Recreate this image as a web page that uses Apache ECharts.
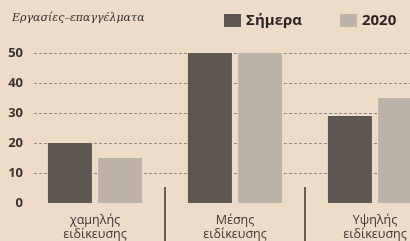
<!DOCTYPE html>
<html>
<head>
    <meta charset="utf-8">
    <title>Εργασίες–επαγγέλματα</title>
    <script src="https://cdn.jsdelivr.net/npm/echarts@6/dist/echarts.min.js"></script>
    <style>
        html, body { margin: 0; padding: 0; background: #efdcc8; }
    </style>
</head>
<body>
<div id="main" style="width:410px; height:241px;"></div>

<script type="text/javascript">
    // δεδομένα
    var categories = ['χαμηλής\nειδίκευσης', 'Μέσης\nειδίκευσης', 'Υψηλής\nειδίκευσης'];
    var seriesNames = ['Σήμερα', '2020'];
    var todayValues = [20, 50, 29];
    var future2020Values = [15, 50, 35];
    var yTicks = [0, 10, 20, 30, 40, 50];

    var darkColor = '#5e5650';
    var lightColor = '#bdb3a9';
    var textColor = '#3a3330';

    var myChart = echarts.init(document.getElementById('main'));

    var option = {
        backgroundColor: '#efdcc8',
        animation: false,
        title: {
            text: 'Εργασίες–επαγγέλματα',
            left: 7,
            top: 8,
            textStyle: {
                fontFamily: 'DejaVu Serif',
                fontStyle: 'italic',
                fontWeight: 'normal',
                fontSize: 11,
                color: '#2f2a28'
            }
        },
        legend: {
            data: seriesNames,
            left: 219,
            top: 8,
            itemWidth: 17,
            itemHeight: 13,
            itemGap: 38,
            icon: 'rect',
            textStyle: {
                fontFamily: 'Open Sans',
                fontWeight: 'bold',
                fontSize: 15,
                color: '#2a2523'
            }
        },
        grid: [
            // ράβδοι
            { left: 25, top: 53, width: 420, height: 150, outerBoundsMode: 'none' },
            // γραμμές πλέγματος
            { left: 34, top: 53, width: 420, height: 150, outerBoundsMode: 'none' }
        ],
        xAxis: [{
            type: 'category',
            gridIndex: 0,
            data: categories,
            offset: -16,
            axisLine: { show: false },
            axisTick: {
                show: true,
                length: 54,
                interval: function (i) { return i > 0; },
                lineStyle: { color: '#3b3431', width: 1.5 }
            },
            axisLabel: {
                margin: 26,
                interval: 0,
                fontFamily: 'Open Sans',
                fontSize: 12.5,
                lineHeight: 14,
                color: textColor
            }
        }, {
            type: 'value',
            gridIndex: 1,
            show: false
        }],
        yAxis: [{
            type: 'value',
            gridIndex: 0,
            min: 0,
            max: 50,
            interval: 10,
            axisLine: { show: false },
            axisTick: { show: false },
            splitLine: { show: false },
            axisLabel: {
                margin: 2,
                fontFamily: 'Open Sans',
                fontWeight: 'bold',
                fontSize: 13,
                color: textColor,
                formatter: function (v) { return yTicks.indexOf(v) >= 0 ? String(v) : ''; }
            }
        }, {
            type: 'value',
            gridIndex: 1,
            min: 0,
            max: 50,
            interval: 10,
            axisLine: { show: false },
            axisTick: { show: false },
            axisLabel: { show: false },
            splitLine: {
                show: true,
                showMinLine: false,
                lineStyle: { color: '#8f8883', type: [3, 2], width: 1 }
            }
        }],
        series: [{
            name: seriesNames[0],
            type: 'bar',
            xAxisIndex: 0,
            yAxisIndex: 0,
            barWidth: 44,
            barGap: '14%',
            itemStyle: { color: darkColor },
            data: todayValues,
            z: 3
        }, {
            name: seriesNames[1],
            type: 'bar',
            xAxisIndex: 0,
            yAxisIndex: 0,
            barWidth: 44,
            barGap: '14%',
            itemStyle: { color: lightColor },
            data: future2020Values,
            z: 3
        }]
    };
    myChart.setOption(option);
</script>
</body>
</html>
